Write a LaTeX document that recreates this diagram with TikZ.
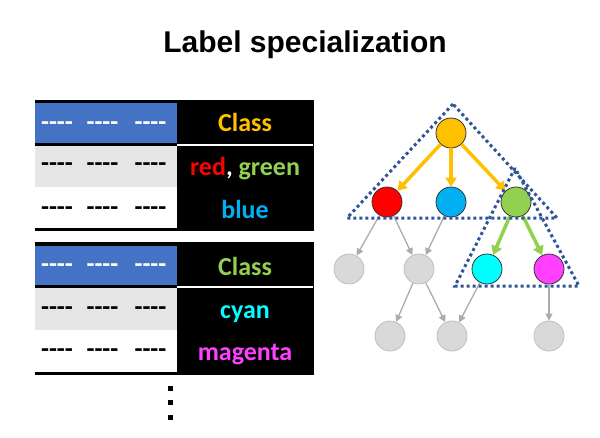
\documentclass[tikz,border=0pt]{standalone}
\usepackage{fontspec}
\setmainfont{Carlito}
\newfontfamily\dfont{Carlito}
\newfontfamily\titlefont{Liberation Sans}
\usetikzlibrary{arrows.meta}
\definecolor{tblue}{HTML}{4472C4}
\definecolor{tgray}{HTML}{E6E6E6}
\definecolor{corange}{HTML}{FFC000}
\definecolor{cred}{HTML}{FF0000}
\definecolor{cgreen}{HTML}{92D050}
\definecolor{cblue}{HTML}{00B0F0}
\definecolor{ccyan}{HTML}{00FFFF}
\definecolor{cmag}{HTML}{FF40FF}
\definecolor{dotblue}{HTML}{2F5597}
\definecolor{ngray}{HTML}{D9D9D9}
\definecolor{egray}{HTML}{BFBFBF}
\begin{document}
\begin{tikzpicture}[x=1pt,y=-1pt,
  cls/.style={font=\bfseries\fontsize{26}{26}\selectfont, anchor=base, inner sep=0},
  dsh/.style={font=\dfont\bfseries\fontsize{26}{26}\selectfont, anchor=center, inner sep=0},
  gnode/.style={circle, fill=ngray, draw=egray, line width=0.8pt, minimum size=30pt, inner sep=0},
  cnode/.style={circle, fill=#1, draw=black!80, line width=0.8pt, minimum size=30pt, inner sep=0},
  garrow/.style={draw=egray!90!black, line width=1.3pt, -{Triangle[length=7pt,width=7pt]}},
  carrow/.style={draw=#1, line width=3.5pt, -{Triangle[length=9pt,width=11pt]}},
  dotline/.style={draw=dotblue, line width=3pt, dash pattern=on 3pt off 3pt},
  sq/.style={fill=black, minimum size=5pt, inner sep=0}
]
\useasboundingbox (0,0) rectangle (600,437);
\fill[white] (0,0) rectangle (600,437);

% title
\node[font=\titlefont\bfseries\fontsize{30}{30}\selectfont, anchor=base] (title) at (305,52) {Label specialization};

% ---------- table 1 ----------
\fill[black] (35,100) rectangle (314,231);
\fill[tblue] (35,103) rectangle (177,143);
\fill[tgray] (35,146) rectangle (177,187);
\fill[white] (35,187) rectangle (177,228);
\fill[white] (177,143.5) rectangle (313,145.5);
\foreach \x/\n in {57/a,102.5/b,150.5/c}{
  \node[dsh, white] (t1h\n) at (\x,126) {----};
  \node[dsh] (t1r\n) at (\x,167) {----};
  \node[dsh] (t1s\n) at (\x,211) {----};
}
\node[cls, text=corange] (class1) at (245,131) {Class};
\node[cls] (rg) at (245,175) {\textcolor{cred}{red}\textcolor{white}{,} \textcolor{cgreen}{green}};
\node[cls, text=cblue] (blue) at (245,218) {blue};

% ---------- table 2 ----------
\fill[black] (35,242) rectangle (314,375);
\fill[tblue] (35,246) rectangle (177,285);
\fill[tgray] (35,288) rectangle (177,330);
\fill[white] (35,330) rectangle (177,372);
\fill[white] (177,285.5) rectangle (313,287.5);
\foreach \x/\n in {57/a,102.5/b,150.5/c}{
  \node[dsh, white] (t2h\n) at (\x,268) {----};
  \node[dsh] (t2r\n) at (\x,311) {----};
  \node[dsh] (t2s\n) at (\x,353) {----};
}
\node[cls, text=cgreen] (class2) at (245,275) {Class};
\node[cls, text=ccyan] (cyan) at (245,318) {cyan};
\node[cls, text=cmag] (magenta) at (245,360) {magenta};

% dots
\node[sq] (d1) at (170,388) {};
\node[sq] (d2) at (170,402) {};
\node[sq] (d3) at (170,417) {};

% ---------- tree ----------
\node[cnode=corange] (o) at (451,133) {};
\node[cnode=cred] (r) at (387,202) {};
\node[cnode=cblue] (b) at (451,202) {};
\node[cnode=cgreen] (g) at (516,202) {};
\node[gnode] (g1) at (349,269) {};
\node[gnode] (g2) at (419,269) {};
\node[cnode=ccyan] (c) at (487,269) {};
\node[cnode=cmag] (m) at (549,269) {};
\node[gnode] (h1) at (390,336) {};
\node[gnode] (h2) at (452,336) {};
\node[gnode] (h3) at (549,336) {};

\draw[garrow] (r) -- (g1);
\draw[garrow] (r) -- (g2);
\draw[garrow] (b) -- (g2);
\draw[garrow] (g2) -- (h1);
\draw[garrow] (g2) -- (h2);
\draw[garrow] (c) -- (h2);
\draw[garrow] (m) -- (h3);

\draw[carrow=corange] (o) -- (r);
\draw[carrow=corange] (o) -- (b);
\draw[carrow=corange] (o) -- (g);
\draw[carrow=cgreen] (g) -- (c);
\draw[carrow=cgreen] (g) -- (m);

% dotted triangles
\coordinate (A1) at (453,104);
\coordinate (B1) at (347,218);
\coordinate (C1) at (557,218);
\draw[dotline] (A1) -- (B1) -- (C1) -- cycle;
\coordinate (A2) at (515,168);
\coordinate (B2) at (455,286);
\coordinate (C2) at (579,286);
\draw[dotline] (A2) -- (B2) -- (C2) -- cycle;
\end{tikzpicture}
\end{document}
